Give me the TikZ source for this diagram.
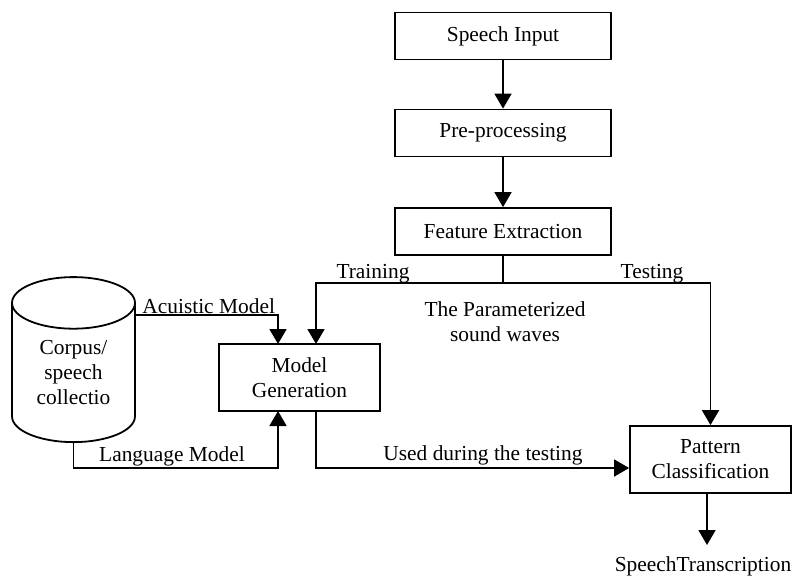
\documentclass[tikz,border=0pt]{standalone}
\usepackage{fontspec}
\setmainfont{Liberation Serif}
\usetikzlibrary{arrows.meta,shapes.geometric}

\tikzset{
	stagebox/.style={draw,line width=0.9pt,minimum width=108pt,minimum height=23.5pt,inner sep=1pt},
	modelbox/.style={draw,line width=0.9pt,minimum width=80.5pt,minimum height=33.5pt,align=center,inner sep=1pt},
	flow/.style={line width=0.9pt,-{Triangle[length=7.5pt,width=8.5pt]}},
	plain/.style={line width=0.9pt},
	lbl/.style={inner sep=1pt,align=center}
}

\begin{document}
\begin{tikzpicture}[x=0.5pt,y=-0.5pt,font=\fontsize{10.7}{12.5}\selectfont]
		\useasboundingbox (0,0) rectangle (795,578);
		% main chain
		\node[stagebox] (input) at (503,36) {Speech Input};
		\node[stagebox] (prep) at (503,133) {Pre-processing};
		\node[stagebox] (feat) at (503,231.5) {Feature Extraction};
		\draw[flow] (input) -- (prep);
		\draw[flow] (prep) -- (feat);
		% model side
		\node[modelbox] (gen) at (299.5,377.5) {Model\\Generation};
		\node[modelbox] (classify) at (710.5,459.5) {Pattern\\Classification};
		\node[cylinder,shape border rotate=90,draw,line width=0.9pt,aspect=0.7,inner sep=0pt,
			minimum width=61.5pt,minimum height=82.5pt,align=center,anchor=south] (corpus) at (73.5,443) {Corpus/\\speech\\collectio};
		% branch after features
		\coordinate (split) at (503,283);
		\draw[plain] (feat.south) -- (split);
		\draw[flow] (split) -| (316,344);
		\draw[flow] (split) -| (classify.north);
		\node[lbl] (train) at (373,274) {Training};
		\node[lbl] (test) at (652,274) {Testing};
		\node[lbl] (param) at (505,322) {The Parameterized\\sound waves};
		% corpus to model generation
		\draw[flow] (corpus.east |- 0,315) -| (278,344);
		\node[lbl,anchor=south west] (acu) at (140,316) {Acuistic Model};
		\draw[flow] (corpus.south) -- (corpus.south |- 0,468) -| (278,411);
		\node[lbl] (lang) at (172,456) {Language Model};
		% model used in testing
		\draw[flow] (316,411) |- (classify.west |- 0,468);
		\node[lbl] (used) at (483,455) {Used during the testing};
		% output
		\coordinate (out) at (707,545);
		\draw[flow] (classify.south -| out) -- (out);
		\node[lbl] (trans) at (703,566) {SpeechTranscription};
	\end{tikzpicture}
\end{document}
